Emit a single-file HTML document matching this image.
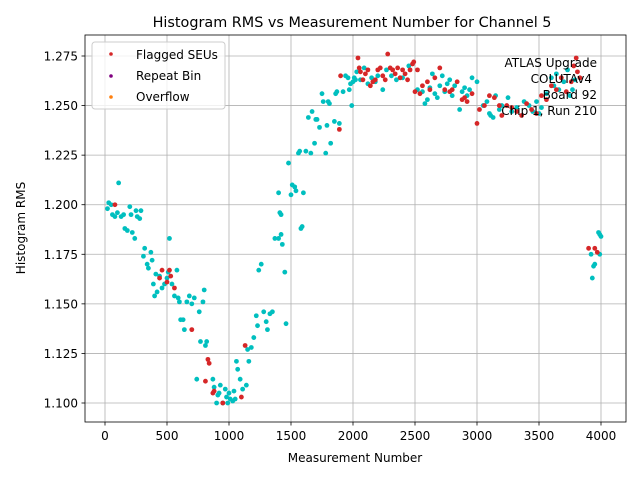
<!DOCTYPE html>
<html><head><meta charset="utf-8"><style>
body{margin:0;background:#fff;}
svg{display:block;font-family:"DejaVu Sans","Liberation Sans",sans-serif;}
</style></head><body>
<svg id="chart" width="640" height="480" viewBox="0 0 640 480">
<rect x="0" y="0" width="640" height="480" fill="#fff"/>
<text x="352" y="27" font-size="14.4" text-anchor="middle">Histogram RMS vs Measurement Number for Channel 5</text>
<g id="grid"></g>
<g id="pts"></g>
<rect x="85" y="35" width="541" height="387" fill="none" stroke="#000" stroke-width="0.8"/>
<g id="ticks" font-size="12"></g>
<text x="355" y="462" font-size="12" text-anchor="middle">Measurement Number</text>
<text x="25" y="228" font-size="12" text-anchor="middle" transform="rotate(-90 25 228)">Histogram RMS</text>
<g font-size="12" text-anchor="end">
<text x="597" y="67">ATLAS Upgrade</text>
<text x="592" y="83">COLUTAv4</text>
<text x="597" y="99">Board 92</text>
<text x="597" y="115">Chip 1, Run 210</text>
</g>
<g>
<rect x="92" y="42" width="133" height="67" rx="3" fill="#fff" fill-opacity="0.8" stroke="#ccc"/>
<g><circle cx="111" cy="54" r="1.8" fill="#d62728"/><text x="136" y="59" font-size="12">Flagged SEUs</text></g>
<g><circle cx="111" cy="76" r="1.8" fill="#800080"/><text x="136" y="80" font-size="12">Repeat Bin</text></g>
<g><circle cx="111" cy="97" r="1.8" fill="#ff7f0e"/><text x="136" y="101" font-size="12">Overflow</text></g>
</g>
</svg>
<script>
const xTicks=[0,500,1000,1500,2000,2500,3000,3500,4000];
const yTicks=[1.100,1.125,1.150,1.175,1.200,1.225,1.250,1.275];
const cyanX=[20,30,50,60,80,100,110,130,150,160,180,200,210,220,240,250,260,280,290,310,320,340,350,370,380,390,400,410,420,440,460,480,500,510,520,540,560,580,590,600,610,630,640,660,680,700,720,740,760,770,790,800,810,820,870,880,900,910,920,930,950,970,980,990,1000,1010,1030,1040,1050,1060,1070,1090,1110,1140,1150,1160,1180,1200,1220,1230,1240,1260,1280,1300,1310,1330,1350,1370,1400,1420,1430,1450,1460,1480,1400,1410,1420,1500,1510,1530,1540,1560,1570,1580,1590,1600,1620,1640,1660,1670,1690,1700,1710,1730,1750,1760,1780,1790,1800,1810,1820,1850,1860,1870,1890,1920,1940,1960,1970,1980,2000,2010,2030,2020,1990,2060,2090,2120,2150,2180,2200,2240,2270,2310,2350,2400,2450,2520,2560,2580,2600,2620,2640,2660,2680,2700,2720,2740,2760,2780,2800,2820,2860,2880,2900,2920,2940,2960,3000,3050,3080,3100,3110,3130,3150,3180,3200,3250,3280,3320,3380,3420,3450,3480,3500,3520,3560,3600,3620,3640,3660,3700,3730,3750,3770,3790,3920,3930,3940,3950,3980,3990,4000,3990];
const cyanY=[1.198,1.201,1.200,1.195,1.194,1.196,1.211,1.194,1.195,1.188,1.187,1.199,1.195,1.186,1.183,1.197,1.194,1.193,1.197,1.174,1.178,1.170,1.168,1.176,1.172,1.160,1.154,1.165,1.156,1.164,1.158,1.160,1.163,1.166,1.183,1.160,1.154,1.167,1.153,1.151,1.142,1.142,1.137,1.151,1.154,1.150,1.153,1.112,1.146,1.131,1.151,1.157,1.129,1.131,1.112,1.108,1.100,1.104,1.105,1.109,1.100,1.107,1.103,1.100,1.105,1.102,1.101,1.106,1.102,1.121,1.117,1.112,1.107,1.109,1.127,1.121,1.128,1.133,1.144,1.139,1.167,1.170,1.146,1.141,1.137,1.145,1.146,1.183,1.183,1.185,1.180,1.166,1.140,1.221,1.206,1.196,1.195,1.205,1.210,1.209,1.207,1.226,1.227,1.188,1.189,1.206,1.227,1.244,1.226,1.247,1.231,1.243,1.243,1.239,1.256,1.252,1.226,1.240,1.252,1.251,1.231,1.242,1.256,1.257,1.241,1.257,1.265,1.264,1.258,1.261,1.262,1.264,1.267,1.263,1.250,1.263,1.269,1.261,1.264,1.262,1.265,1.258,1.268,1.265,1.263,1.264,1.270,1.258,1.257,1.251,1.253,1.259,1.266,1.256,1.254,1.260,1.265,1.257,1.261,1.263,1.255,1.260,1.248,1.257,1.259,1.255,1.258,1.264,1.262,1.250,1.252,1.246,1.245,1.244,1.255,1.248,1.250,1.254,1.247,1.249,1.252,1.250,1.247,1.252,1.246,1.249,1.256,1.264,1.260,1.266,1.258,1.262,1.268,1.255,1.258,1.263,1.175,1.163,1.169,1.170,1.186,1.185,1.184,1.175];
const redX=[80,460,440,520,530,500,560,700,830,840,810,870,880,1100,1130,950,1900,1890,2040,2050,2060,2080,2100,2120,2140,2160,2180,2200,2220,2240,2260,2280,2300,2320,2340,2360,2380,2400,2420,2440,2460,2480,2490,2500,2520,2540,2560,2600,2620,2660,2700,2740,2780,2800,2840,2880,2900,2920,2960,3000,3020,3060,3100,3140,3180,3200,3240,3280,3320,3360,3400,3440,3480,3520,3560,3600,3640,3680,3720,3760,3780,3800,3810,3830,3900,3950,3970];
const redY=[1.200,1.167,1.163,1.167,1.164,1.161,1.158,1.137,1.122,1.120,1.111,1.105,1.106,1.103,1.129,1.100,1.265,1.238,1.274,1.269,1.267,1.263,1.266,1.268,1.260,1.262,1.263,1.268,1.269,1.265,1.263,1.276,1.269,1.268,1.266,1.269,1.264,1.268,1.266,1.263,1.268,1.271,1.272,1.257,1.268,1.256,1.260,1.262,1.258,1.264,1.269,1.258,1.257,1.258,1.262,1.253,1.254,1.252,1.256,1.241,1.248,1.250,1.255,1.254,1.250,1.245,1.250,1.249,1.247,1.245,1.251,1.248,1.246,1.255,1.253,1.260,1.258,1.264,1.257,1.262,1.270,1.274,1.267,1.264,1.178,1.178,1.176];
const NS='http://www.w3.org/2000/svg';
function sx(v){return 105+(v/4000)*496;}
function sy(v){return 403-(v-1.1)/0.175*347;}
const grid=document.getElementById('grid'),ticks=document.getElementById('ticks'),pts=document.getElementById('pts');
function mk(tag,attrs,parent){const e=document.createElementNS(NS,tag);for(const k in attrs)e.setAttribute(k,attrs[k]);parent.appendChild(e);return e;}
xTicks.forEach(t=>{const x=sx(t);
const g=mk('line',{x1:x,x2:x,y1:35,y2:422,stroke:'#b0b0b0','stroke-width':0.8},grid);


mk('line',{x1:x,x2:x,y1:422,y2:425.5,stroke:'#000','stroke-width':0.8},ticks);
const tx=mk('text',{x:x,y:440,'text-anchor':'middle'},ticks);tx.textContent=t;

});
yTicks.forEach(t=>{const y=sy(t);
const g=mk('line',{x1:85,x2:626,y1:y,y2:y,stroke:'#b0b0b0','stroke-width':0.8},grid);


mk('line',{x1:81.5,x2:85,y1:y,y2:y,stroke:'#000','stroke-width':0.8},ticks);
const tx=mk('text',{x:78,y:y+4.5,'text-anchor':'end'},ticks);tx.textContent=t.toFixed(3);

});
cyanX.forEach((v,i)=>{const c=mk('circle',{cx:sx(v),cy:sy(cyanY[i]),r:2.4,fill:'#00bfbf'},pts);

});
redX.forEach((v,i)=>{const c=mk('circle',{cx:sx(v),cy:sy(redY[i]),r:2.4,fill:'#d62728'},pts);

});
</script>
</body></html>
